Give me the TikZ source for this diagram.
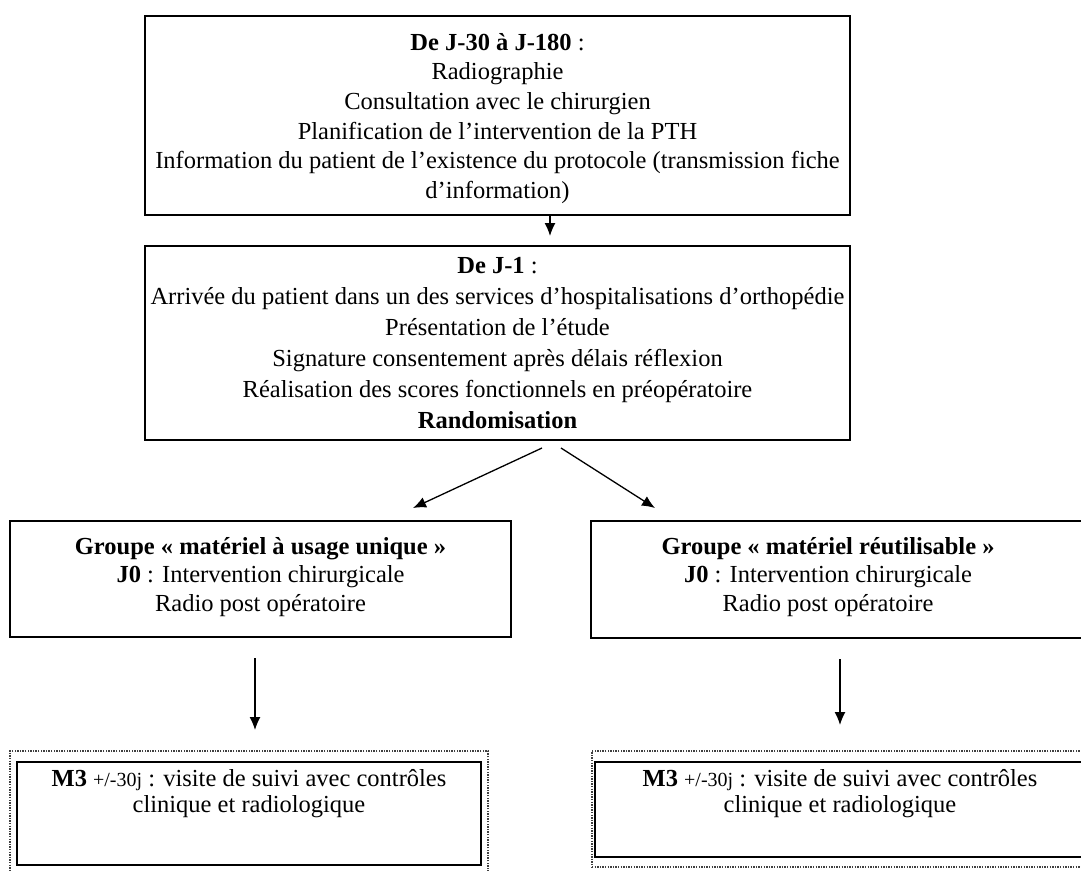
\documentclass[tikz,border=0pt]{standalone}
\usepackage{fontspec}
\setmainfont{Liberation Serif}
\usetikzlibrary{arrows.meta,calc}
\begin{document}
\begin{tikzpicture}[x=1pt,y=-1pt,
  box/.style={draw, line width=2.2pt, inner sep=0pt, outer sep=0pt},
  framebox/.style={draw=black!75, line width=1.8pt, dash pattern=on 1.4pt off 1.2pt, inner sep=0pt, outer sep=0pt},
  txt/.style={align=center, inner sep=0pt, anchor=north},
  arr/.style={line width=1.3pt, -{Latex[length=13pt,width=11pt]}}]
\clip (0,0) rectangle (1081,870);
\fill[white] (0,0) rectangle (1081,870);
% boxes
\node[box, minimum width=705pt, minimum height=199pt] (b1) at (497.5,115.5) {};
\node[box, minimum width=705pt, minimum height=194pt] (b2) at (497.5,343) {};
\node[box, minimum width=501pt, minimum height=116pt] (g1) at (260.5,579) {};
\node[box, minimum width=504pt, minimum height=117pt] (g2) at (843,579.5) {};
\node[framebox, minimum width=478pt, minimum height=129pt] (f1) at (249,815.5) {};
\node[box, minimum width=464pt, minimum height=103pt] (m1) at (249,813.5) {};
\node[framebox, minimum width=503pt, minimum height=116pt] (f2) at (843.5,809) {};
\node[box, minimum width=500pt, minimum height=95pt] (m2) at (845,809.5) {};
% texts
\node[txt, font=\fontsize{24.5}{29.6}\selectfont] (t1) at (497.5,33)
 {\textbf{De J-30 à J-180} :\\Radiographie\\Consultation avec le chirurgien\\Planification de l’intervention de la PTH\\Information du patient de l’existence du protocole (transmission fiche\\d’information)};
\node[txt, font=\fontsize{24.5}{31}\selectfont] (t2) at (497.5,257)
 {\textbf{De J-1} :\\Arrivée du patient dans un des services d’hospitalisations d’orthopédie\\Présentation de l’étude\\Signature consentement après délais réflexion\\Réalisation des scores fonctionnels en préopératoire\\\textbf{Randomisation}};
\node[txt, font=\fontsize{24.5}{28.5}\selectfont] (t3) at (260.5,537)
 {\textbf{Groupe « matériel à usage unique »}\\\textbf{J0} : Intervention chirurgicale\\Radio post opératoire};
\node[txt, font=\fontsize{24.5}{28.5}\selectfont] (t4) at (828,537)
 {\textbf{Groupe « matériel réutilisable »}\\\textbf{J0} : Intervention chirurgicale\\Radio post opératoire};
\node[txt, font=\fontsize{24.5}{26}\selectfont] (t5) at (249,769)
 {\textbf{M3} {\fontsize{20}{20}\selectfont +/-30j} : visite de suivi avec contrôles\\clinique et radiologique};
\node[txt, font=\fontsize{24.5}{26}\selectfont] (t6) at (840,769)
 {\textbf{M3} {\fontsize{20}{20}\selectfont +/-30j} : visite de suivi avec contrôles\\clinique et radiologique};
% connectors
\draw[arr] ($(b1.south)+(52.5,0)$) -- ($(b2.north)+(52.5,-10)$);
\draw[arr] ($(b2.south)+(44.5,8)$) -- ($(g1.north)+(152.5,-13)$);
\draw[arr] ($(b2.south)+(63.5,8)$) -- ($(g2.north)+(-188,-13)$);
\draw[arr] ($(g1.south)+(-5.5,21)$) -- ($(f1.north)+(6,-21)$);
\draw[arr] ($(g2.south)+(-3,21)$) -- ($(f2.north)+(-3.5,-26)$);
\end{tikzpicture}
\end{document}
